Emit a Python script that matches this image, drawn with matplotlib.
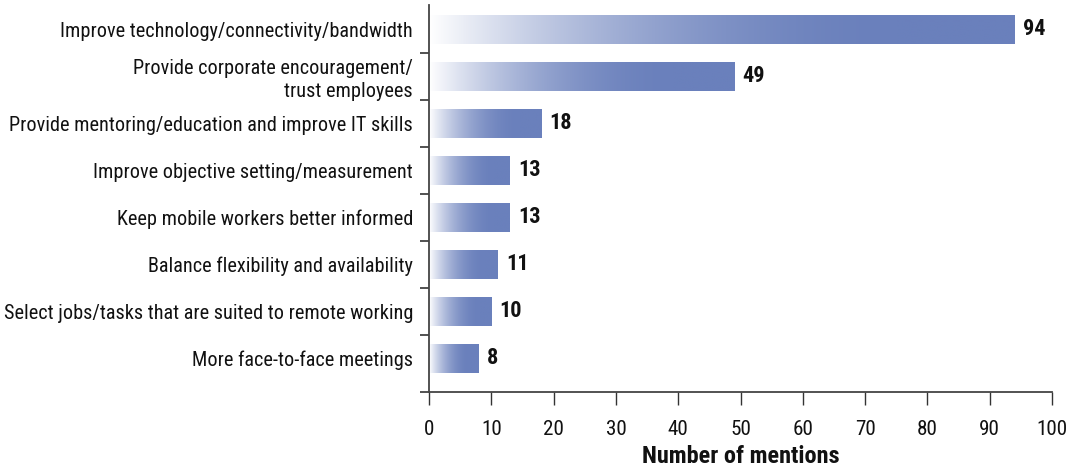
import numpy as np
import matplotlib
matplotlib.use("Agg")
import matplotlib.pyplot as plt
from matplotlib import font_manager as fm
from matplotlib.colors import to_rgb

categories = [
    "Improve technology/connectivity/bandwidth",
    "Provide corporate encouragement/\ntrust employees",
    "Provide mentoring/education and improve IT skills",
    "Improve objective setting/measurement",
    "Keep mobile workers better informed",
    "Balance flexibility and availability",
    "Select jobs/tasks that are suited to remote working",
    "More face-to-face meetings",
]
mentions = [94, 49, 18, 13, 13, 11, 10, 8]
x_ticks = [0, 10, 20, 30, 40, 50, 60, 70, 80, 90, 100]
x_label = "Number of mentions"

available = {f.name for f in fm.fontManager.ttflist}
prefs = ["Roboto Condensed", "Archivo Narrow", "PT Sans Narrow",
         "IBM Plex Sans Condensed", "Liberation Sans"]
chosen = next((p for p in prefs if p in available), "DejaVu Sans")
plt.rcParams["font.family"] = [chosen, "DejaVu Sans"]

W, H = 1090, 474
fig = plt.figure(figsize=(W / 100, H / 100), dpi=100)
left_px, right_px, top_px, bottom_px = 429, 1052, 5, 392
ax = fig.add_axes([left_px / W, 1 - bottom_px / H,
                   (right_px - left_px) / W, (bottom_px - top_px) / H])

n = len(categories)
ypos = np.arange(n)
bar_h = 0.61
y_top, y_bot = -0.52, 7.72

end_col = np.array(to_rgb("#6a80bc"))
white = np.array([1.0, 1.0, 1.0])
t = np.linspace(0, 1, 256)
f = 1 - (1 - np.clip(t / 0.8, 0, 1)) ** 2
grad = white[None, :] * (1 - f[:, None]) + end_col[None, :] * f[:, None]
grad_img = grad[None, :, :]

FS = 14.6
bars = ax.barh(ypos, mentions, height=bar_h, color="none", edgecolor="none")
for b, v in zip(bars, mentions):
    y0 = b.get_y()
    im = ax.imshow(grad_img, extent=(0, v, y0 + bar_h, y0), aspect="auto",
                   interpolation="bilinear", zorder=2)
    im.set_clip_path(b)
    ax.annotate(str(v), xy=(v, b.get_y() + bar_h / 2), xytext=(6, 0),
                textcoords="offset points", va="center", ha="left",
                fontsize=16, fontweight="bold", color="#111111")

ax.set_xlim(0, 100)
ax.set_ylim(y_bot, y_top)
ax.set_xticks(x_ticks)
ax.set_xticklabels([str(v) for v in x_ticks], fontsize=15.2, color="#111111")
ax.set_yticks(ypos)
ax.set_yticklabels(categories, fontsize=FS, color="#111111", linespacing=1.25)
ax.tick_params(axis="y", which="major", length=0, pad=11.5)
ax.set_yticks([i + 0.5 for i in range(n - 1)] + [y_bot], minor=True)
ax.tick_params(axis="y", which="minor", length=6.5, width=1.2, color="#333333",
               direction="out")
ax.tick_params(axis="x", which="major", length=9.5, width=1.0, color="#333333",
               direction="out", pad=11)
ax.set_xlabel(x_label, fontsize=17.5, fontweight="bold", color="#111111", labelpad=4)

for s in ["top", "right"]:
    ax.spines[s].set_visible(False)
for s in ["left", "bottom"]:
    ax.spines[s].set_color("#444444")
    ax.spines[s].set_linewidth(1.3)

fig.savefig("out.png", dpi=100)
